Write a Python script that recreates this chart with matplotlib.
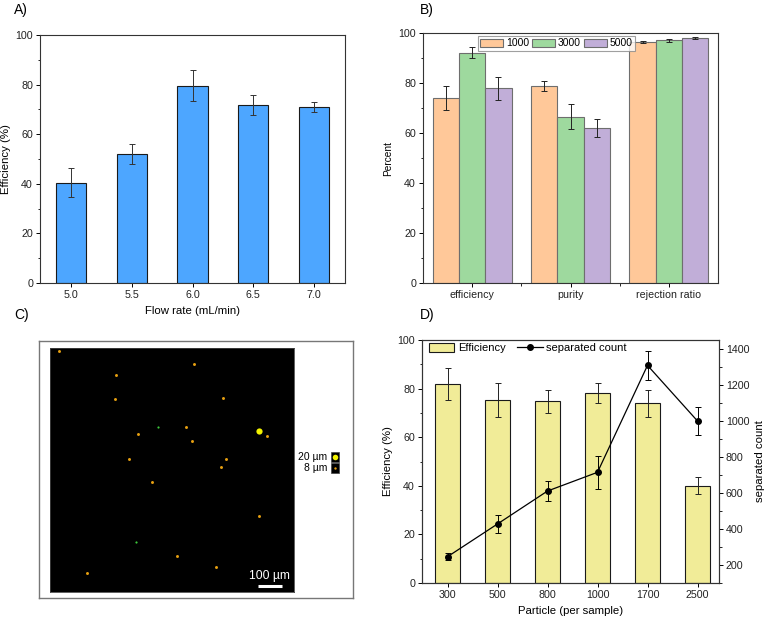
import matplotlib
matplotlib.use("Agg")
import matplotlib.pyplot as plt
import numpy as np
from matplotlib.patches import Rectangle
from matplotlib.lines import Line2D

plt.rcParams['font.family'] = ['Liberation Sans', 'DejaVu Sans']
plt.rcParams['font.size'] = 7.7
plt.rcParams['axes.linewidth'] = 0.8

# ---------------- Data ----------------
# Panel A
flow_rates = ["5.0", "5.5", "6.0", "6.5", "7.0"]
flow_eff = [40.4, 52.1, 79.5, 71.8, 70.9]
flow_err = [5.8, 4.0, 6.3, 4.0, 2.1]

# Panel B
metrics = ["efficiency", "purity", "rejection ratio"]
groups = ["1000", "3000", "5000"]
vals_1000 = [74.0, 78.8, 96.4]
err_1000 = [4.7, 2.1, 0.3]
vals_3000 = [92.2, 66.6, 97.1]
err_3000 = [2.2, 5.0, 0.5]
vals_5000 = [78.0, 62.0, 98.1]
err_5000 = [4.6, 3.6, 0.3]

# Panel C (dot positions as fractions of image, type: 0 small orange, 1 big yellow, 2 tiny green)
dot_x = [0.036, 0.592, 0.272, 0.268, 0.709, 0.444, 0.559, 0.858, 0.888, 0.361,
         0.581, 0.324, 0.720, 0.699, 0.418, 0.858, 0.352, 0.520, 0.680, 0.153]
dot_y = [0.012, 0.066, 0.111, 0.208, 0.205, 0.325, 0.322, 0.342, 0.361, 0.354,
         0.383, 0.456, 0.454, 0.488, 0.549, 0.690, 0.795, 0.851, 0.899, 0.921]
dot_type = [0, 0, 0, 0, 0, 2, 0, 1, 0, 0,
            0, 0, 0, 0, 0, 0, 2, 0, 0, 0]

# Panel D
particles = ["300", "500", "800", "1000", "1700", "2500"]
part_eff = [81.9, 75.3, 74.7, 78.0, 73.9, 40.1]
part_eff_err = [6.7, 6.9, 4.8, 4.1, 5.4, 3.6]
sep_count = [246, 428, 611, 715, 1309, 1000]
sep_err = [18, 52, 54, 93, 79, 80]

# ---------------- Figure ----------------
W, H = 766, 621
fig = plt.figure(figsize=(W / 100, H / 100), dpi=100)

TICK = 7.7
LAB = 8.2


def rect(x0, x1, y0, y1):
    return [x0 / W, 1 - y1 / H, (x1 - x0) / W, (y1 - y0) / H]


def style_axis(ax):
    ax.tick_params(direction='out', length=3, width=0.7, labelsize=TICK, pad=2,
                   labelcolor='#222222')
    ax.tick_params(which='minor', direction='out', length=1.8, width=0.6)
    for s in ax.spines.values():
        s.set_color('#333333')


# ---- Panel A ----
axA = fig.add_axes(rect(40, 345, 35, 283))
xA = np.arange(len(flow_rates))
axA.bar(xA, flow_eff, width=0.5, color='#4DA6FF', edgecolor='#1a1a1a', linewidth=0.8,
        yerr=flow_err, error_kw=dict(ecolor='#333333', elinewidth=0.7, capsize=2.5, capthick=0.7))
axA.set_xlim(-0.51, len(flow_rates) - 0.49)
axA.set_ylim(0, 100)
axA.set_xticks(xA)
axA.set_xticklabels(flow_rates)
axA.set_yticks(np.arange(0, 101, 20))
axA.set_yticks(np.arange(0, 101, 10), minor=True)
axA.set_ylabel("Efficiency (%)", fontsize=LAB, labelpad=3)
axA.set_xlabel("Flow rate (mL/min)", fontsize=LAB, labelpad=4)
style_axis(axA)

# ---- Panel B ----
axB = fig.add_axes(rect(423, 718, 33, 283))
xB = np.arange(len(metrics))
bw = 0.267
colsB = ['#FFC899', '#9ED99E', '#C1AED8']
for i, (v, e, c, g) in enumerate(zip([vals_1000, vals_3000, vals_5000],
                                     [err_1000, err_3000, err_5000], colsB, groups)):
    axB.bar(xB + (i - 1) * bw, v, width=bw, color=c, edgecolor='#6e6e6e', linewidth=0.8,
            yerr=e, label=g,
            error_kw=dict(ecolor='#222222', elinewidth=0.7, capsize=2.5, capthick=0.7))
axB.set_xlim(-0.5, 2.5)
axB.set_ylim(0, 100)
axB.set_xticks(xB)
axB.set_xticklabels(metrics)
axB.set_xticks([0.5, 1.5], minor=True)
axB.set_yticks(np.arange(0, 101, 20))
axB.set_yticks(np.arange(0, 101, 10), minor=True)
axB.set_ylabel("Percent", fontsize=7.3, labelpad=4)
style_axis(axB)
axB.tick_params(axis='x', which='minor', length=2.5)
legB = axB.legend(loc='upper left', bbox_to_anchor=(0.178, 0.997), ncol=3, frameon=True,
                  fontsize=7.5, handlelength=2.2, handleheight=0.8, handletextpad=0.25,
                  columnspacing=0.3, borderpad=0.25, borderaxespad=0.2, fancybox=False)
legB.get_frame().set_edgecolor('#888888')
legB.get_frame().set_linewidth(0.8)

# ---- Panel C ----
axCf = fig.add_axes(rect(39, 353, 341, 598))
axCf.set_xlim(39, 353)
axCf.set_ylim(598, 341)
axCf.set_xticks([])
axCf.set_yticks([])
for s in axCf.spines.values():
    s.set_color('#777777')
    s.set_linewidth(1.0)
# legend squares
axCf.add_patch(Rectangle((331, 452), 8, 10, facecolor='black', edgecolor='#444444', lw=0.5))
axCf.add_patch(Rectangle((331, 463), 8, 10, facecolor='black', edgecolor='#444444', lw=0.5))
axCf.scatter([335], [457], s=16, color='#F2F200', zorder=5, linewidths=0)
axCf.scatter([335], [468], s=3, color='#E8A010', zorder=5, linewidths=0)
axCf.text(327, 457, "20 µm", ha='right', va='center', fontsize=7.5)
axCf.text(327, 468, "8 µm", ha='right', va='center', fontsize=7.5)

axC = fig.add_axes(rect(50, 294, 348, 592))
axC.set_facecolor('black')
axC.set_xlim(0, 1)
axC.set_ylim(1, 0)
axC.set_xticks([])
axC.set_yticks([])
for s in axC.spines.values():
    s.set_color('#444444')
    s.set_linewidth(0.6)
dx = np.array(dot_x)
dy = np.array(dot_y)
dt = np.array(dot_type)
m0 = dt == 0
axC.scatter(dx[m0], dy[m0], s=4.5, color='#E8A010', linewidths=0)
m1 = dt == 1
axC.scatter(dx[m1], dy[m1], s=20, color='#F2F200', linewidths=0)
m2 = dt == 2
axC.scatter(dx[m2], dy[m2], s=2.5, color='#3CC83C', linewidths=0)
axC.text(0.90, 0.936, "100 µm", color='white', ha='center', va='center', fontsize=8.7)
axC.plot([0.851, 0.951], [0.975, 0.975], color='white', lw=2.2, solid_capstyle='butt')

# ---- Panel D ----
axD = fig.add_axes(rect(422, 719, 340, 583))
xD = np.arange(len(particles))
axD.bar(xD, part_eff, width=0.5, color='#F1EC98', edgecolor='#1a1a1a', linewidth=0.8,
        yerr=part_eff_err, label='Efficiency',
        error_kw=dict(ecolor='#222222', elinewidth=0.7, capsize=2.5, capthick=0.7))
axD.set_xlim(-0.51, 5.43)
axD.set_ylim(0, 100)
axD.set_xticks(xD)
axD.set_xticklabels(particles)
axD.set_yticks(np.arange(0, 101, 20))
axD.set_yticks(np.arange(0, 101, 10), minor=True)
axD.set_ylabel("Efficiency (%)", fontsize=LAB, labelpad=3)
axD.set_xlabel("Particle (per sample)", fontsize=LAB, labelpad=4)
style_axis(axD)

axD2 = axD.twinx()
axD2.errorbar(xD, sep_count, yerr=sep_err, color='black', marker='o', markersize=4,
              lw=0.9, elinewidth=0.7, capsize=2.5, capthick=0.7, label='separated count')
axD2.set_ylim(100, 1450)
axD2.set_yticks(np.arange(200, 1401, 200))
axD2.set_yticks(np.arange(100, 1451, 100), minor=True)
axD2.set_ylabel("separated count", fontsize=LAB, labelpad=4)
style_axis(axD2)
h1, l1 = axD.get_legend_handles_labels()
h2, l2 = axD2.get_legend_handles_labels()
lh = Line2D([], [], color='black', marker='o', markersize=4, lw=0.9)
axD2.legend([h1[0], lh], [l1[0], l2[0]], loc='upper left', ncol=2, frameon=False,
            fontsize=8, handlelength=2.3, handleheight=0.9, handletextpad=0.35,
            columnspacing=1.0, borderaxespad=0.2, bbox_to_anchor=(0.0, 1.015))

# ---- Panel labels ----
fig.text(14 / W, 1 - 10 / H, "A)", fontsize=10, va='center', ha='left')
fig.text(420 / W, 1 - 10 / H, "B)", fontsize=10, va='center', ha='left')
fig.text(14 / W, 1 - 315 / H, "C)", fontsize=10, va='center', ha='left')
fig.text(420 / W, 1 - 315 / H, "D)", fontsize=10, va='center', ha='left')

fig.savefig("out.png", dpi=100)
